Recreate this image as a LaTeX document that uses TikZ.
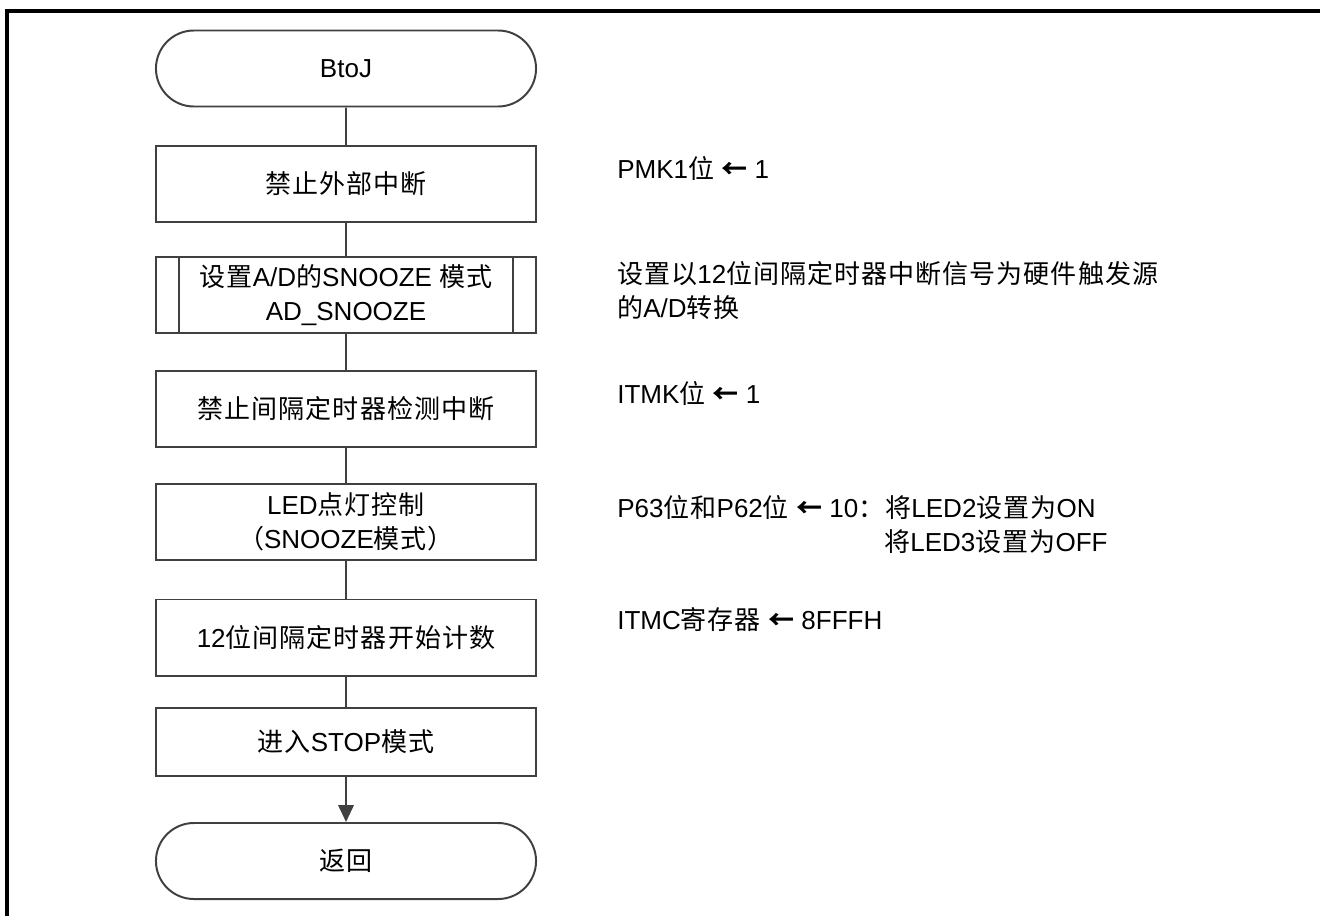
\documentclass[tikz,border=0pt]{standalone}
\usepackage{fontspec}
\setmainfont{Liberation Sans}
\newfontfamily\zhfont[LetterSpace=4]{Noto Sans CJK SC}
\newcommand{\zh}[1]{{\zhfont #1}}
\newcommand{\getsarrow}{{\zhfont\bfseries ←}}
\usepackage{xcolor}
\usetikzlibrary{arrows.meta,shapes.misc,positioning}
\definecolor{linegray}{HTML}{404040}

\tikzset{
  box/.style={draw=linegray, line width=1.4pt, minimum width=9.5cm,
    minimum height=1.9cm, inner sep=0pt, align=center},
  term/.style={box, rounded rectangle},
  subbox/.style={box, path picture={
    \draw[linegray, line width=1.4pt]
      ([xshift=0.575cm]path picture bounding box.north west) --
      ([xshift=0.575cm]path picture bounding box.south west)
      ([xshift=-0.575cm]path picture bounding box.north east) --
      ([xshift=-0.575cm]path picture bounding box.south east);}},
  note/.style={anchor=west, align=left, inner sep=0pt},
  flow/.style={draw=linegray, line width=1.4pt},
}

\begin{document}
\begin{tikzpicture}[x=0.025cm, y=-0.025cm, font=\fontsize{18.5pt}{24.5pt}\selectfont]
  \useasboundingbox (0,0) rectangle (1320,916);
  \draw[line width=2.2pt] (7,916) |- (1320,11);

  % flow chart
  \node[term] (start) at (346,68.5) {BtoJ};
  \node[box] (s1) at (346,184) {\zh{禁止外部中断}};
  \node[subbox] (s2) at (346,295) {\zh{设置}A/D\zh{的}SNOOZE \zh{模式}\\AD\_SNOOZE};
  \node[box] (s3) at (346,409) {\zh{禁止间隔定时器检测中断}};
  \node[box] (s4) at (346,522) {LED\zh{点灯控制}\\\zh{（}SNOOZE\zh{模式）}};
  \node[box] (s5) at (346,637.5) {12\zh{位间隔定时器开始计数}};
  \node[box, minimum height=1.7cm] (s6) at (346,742) {\zh{进入}STOP\zh{模式}};
  \node[term] (stop) at (346,861) {\zh{返回}};

  \draw[flow] (start) -- (s1);
  \draw[flow] (s1) -- (s2);
  \draw[flow] (s2) -- (s3);
  \draw[flow] (s3) -- (s4);
  \draw[flow] (s4) -- (s5);
  \draw[flow] (s5) -- (s6);
  \draw[flow, -{Triangle[length=12pt,width=11pt]}] (s6) -- (stop);

  % comments on the right
  \node[note] (n1) at (617,168) {PMK1\zh{位} \getsarrow{} 1};
  \node[note] (n2) at (617,290.5) {\zh{设置以}12\zh{位间隔定时器中断信号为硬件触发源}\\\zh{的}A/D\zh{转换}};
  \node[note] (n3) at (617,393) {ITMK\zh{位} \getsarrow{} 1};
  \node[note] (n4) at (617,524.5) {P63\zh{位和}P62\zh{位} \getsarrow{} 10\zh{：}\zh{将}LED2\zh{设置为}ON\\
    \hphantom{P63\zh{位和}P62\zh{位} \getsarrow{} 10\zh{：}}\zh{将}LED3\zh{设置为}OFF};
  \node[note] (n5) at (617,620) {ITMC\zh{寄存器} \getsarrow{} 8FFFH};
\end{tikzpicture}
\end{document}
